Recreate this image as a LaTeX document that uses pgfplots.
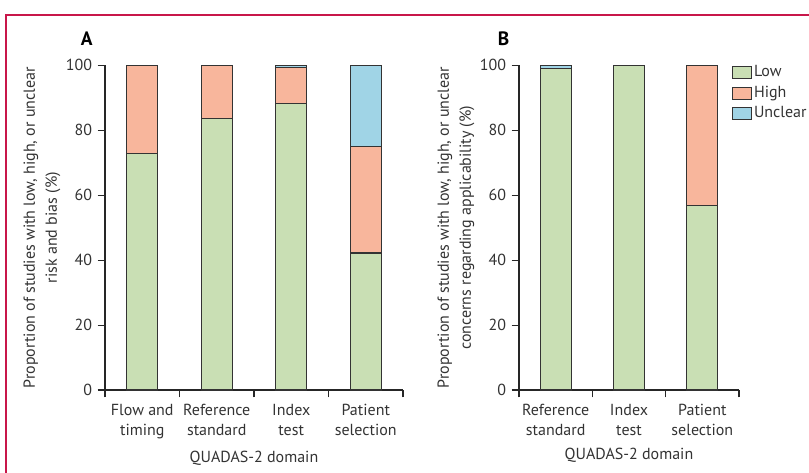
\documentclass[border=0pt]{standalone}
\usepackage{fontspec}
\setmainfont{PT Sans}
\usepackage{pgfplots}
\pgfplotsset{compat=1.18}
\definecolor{cLow}{HTML}{C9DFB4}
\definecolor{cHigh}{HTML}{F8B69C}
\definecolor{cUnc}{HTML}{A0D4E6}
\definecolor{frm}{HTML}{C8174A}
\definecolor{txt}{HTML}{333333}
\definecolor{brd}{HTML}{333333}
\pgfplotsset{
  myax/.style={
    scale only axis, height=243.5pt,
    ymin=0, ymax=100, enlargelimits=false, clip=false,
    axis x line*=bottom, axis y line*=left,
    axis line style={-, line width=0.8pt, black!85},
    every tick/.style={line width=0.8pt, black!85},
    ybar stacked, bar width=0.42, bar shift=0pt,
    ytick={0,20,...,100},
    tick align=outside, major tick length=5.5pt, minor tick length=5.5pt,
    major x tick style={draw=none},
    minor x tick style={line width=0.8pt, black!85},
    xticklabel style={align=center, text=txt, yshift=-1pt},
    yticklabel style={text=txt},
    /pgf/number format/assume math mode=true,
    ylabel style={align=center, text=txt, font=\fontsize{12}{16.5}\selectfont},
    ylabel shift=-4pt,
    xlabel style={text=txt, yshift=-1pt},
    legend image code/.code={\draw[##1, line width=0.8pt] (0pt,-4.5pt) rectangle (14pt,4.5pt);},
  },
  mybar/.style={draw=brd, line width=0.8pt, fill=#1},
}
\begin{document}
\fontsize{12}{15.2}\selectfont
\begin{tikzpicture}
\path[use as bounding box] (0,0) rectangle (606.75pt,354.75pt);
\draw[frm, line width=0.9pt] (4.5pt,0) -- (4.5pt,343.5pt) -- (606.75pt,343.5pt);
\node[font=\fontsize{14.5}{16}\selectfont\bfseries, text=black] at (65pt,326pt) {A};
\node[font=\fontsize{14.5}{16}\selectfont\bfseries, text=black] at (377.6pt,326pt) {B};

\begin{axis}[myax,
  at={(78.75pt,62.25pt)}, anchor=south west, width=223.5pt,
  xmin=-0.5, xmax=3.5,
  xtick={0,1,2,3},
  minor xtick={-0.5,0.5,1.5,2.5,3.5},
  xticklabels={{Flow and\\timing},{Reference\\standard},{Index\\test},{Patient\\selection}},
  xlabel={QUADAS-2 domain},
  ylabel={Proportion of studies with low, high, or unclear\\risk and bias (\%)},
]
\addplot[mybar=cLow] coordinates {(0,72.8) (1,83.5) (2,88.2) (3,42.2)};
\addplot[mybar=cHigh] coordinates {(0,27.2) (1,16.5) (2,11.2) (3,32.8)};
\addplot[mybar=cUnc] coordinates {(0,0) (1,0) (2,0.6) (3,25.0)};
\end{axis}

\begin{axis}[myax,
  at={(389.25pt,62.25pt)}, anchor=south west, width=165pt,
  xmin=-0.5, xmax=2.5,
  xtick={0,1,2},
  minor xtick={-0.5,0.5,1.5,2.5},
  xticklabels={{Reference\\standard},{Index\\test},{Patient\\selection}},
  xlabel={QUADAS-2 domain},
  ylabel={Proportion of studies with low, high, or unclear\\concerns regarding applicability (\%)},
  legend cell align=left,
  legend style={draw=none, fill=none, at={(axis cs:2.405,101)}, anchor=north west,
    inner sep=0pt, row sep=0.6pt,
    nodes={inner sep=1.5pt, text=txt, text height=9pt, text depth=3pt}},
]
\addplot[mybar=cLow] coordinates {(0,99) (1,100) (2,56.7)};
\addplot[mybar=cHigh] coordinates {(0,0) (1,0) (2,43.3)};
\addplot[mybar=cUnc] coordinates {(0,1) (1,0) (2,0)};
\legend{Low,High,Unclear}
\end{axis}
\end{tikzpicture}
\end{document}
